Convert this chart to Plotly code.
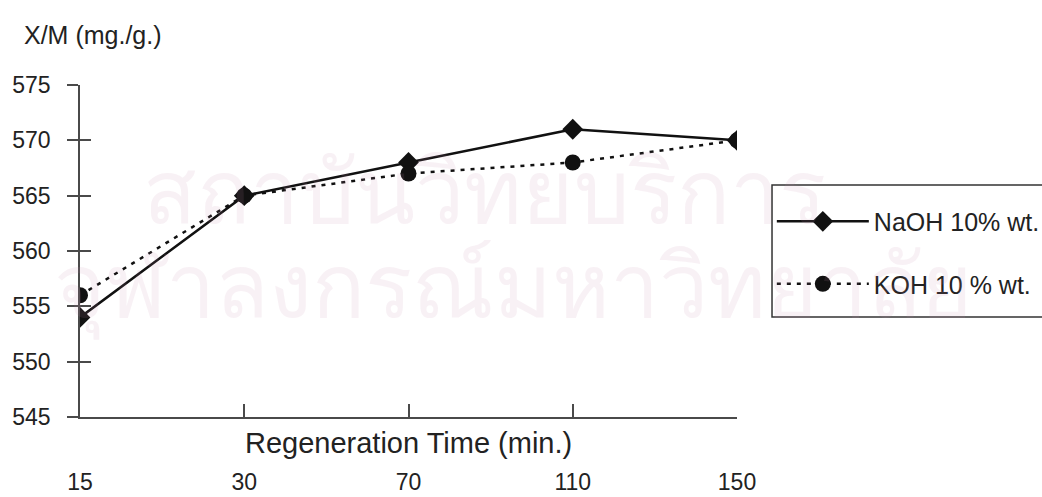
import plotly.graph_objects as go

# ---- data ----
time_labels = ["15", "30", "70", "110", "150"]
naoh_values = [554, 565, 568, 571, 570]
koh_values = [556, 565, 567, 568, 570]
y_ticks = [545, 550, 555, 560, 565, 570, 575]
series_names = ["NaOH 10% wt.", "KOH 10 % wt."]
watermark_lines = ["สถาบันวิทยบริการ", "จุฬาลงกรณ์มหาวิทยาลัย"]

FONT = "Liberation Sans, Arial, sans-serif"
AX = "#4a4a4a"

fig = go.Figure()
fig.add_trace(go.Scatter(
    x=time_labels, y=naoh_values, name=series_names[0], mode="lines+markers",
    legendgroup="a",
    line=dict(color="#111", width=2.5),
    marker=dict(symbol="diamond", size=16, color="#111"),
))
fig.add_trace(go.Scatter(
    x=time_labels, y=koh_values, name=series_names[1], mode="lines+markers",
    legendgroup="b",
    line=dict(color="#111", width=2.5, dash="4px,6px"),
    marker=dict(symbol="circle", size=16, color="#111"),
))

fig.update_layout(
    width=1042, height=497,
    margin=dict(l=80, r=305, t=85, b=80, autoexpand=False),
    paper_bgcolor="white", plot_bgcolor="white",
    font=dict(family=FONT, color="#222", size=23),
    showlegend=True,
    legend=dict(
        x=1.053, y=0.658, xanchor="left", yanchor="top",
        borderwidth=0, bgcolor="rgba(255,255,255,0)",
        font=dict(size=25, family=FONT, color="#222"),
        itemwidth=92, tracegroupgap=27,
    ),
    xaxis=dict(
        type="category", range=[0, 4], showgrid=False, zeroline=False,
        showline=True, linecolor=AX, linewidth=1.5,
        ticks="inside", ticklen=13, tickcolor=AX, tickwidth=1.5,
        tickfont=dict(size=23, family=FONT, color="#222"),
        ticklabelstandoff=44,
    ),
    yaxis=dict(
        range=[545, 575], tickvals=y_ticks, showgrid=False, zeroline=False,
        showline=True, linecolor=AX, linewidth=1.5,
        ticks="outside", ticklen=11, tickcolor=AX, tickwidth=1.5,
        tickfont=dict(size=23, family=FONT, color="#222"),
        ticklabelstandoff=12,
    ),
    yaxis2=dict(
        range=[545, 575], tickvals=y_ticks, overlaying="y", side="left",
        showgrid=False, zeroline=False, showline=False, showticklabels=False,
        ticks="inside", ticklen=11, tickcolor=AX, tickwidth=1.5,
    ),
)
fig.add_trace(go.Scatter(x=[time_labels[0]], y=[None], yaxis="y2", showlegend=False, hoverinfo="skip"))

# legend frame (extends past the right edge like the reference)
fig.add_shape(type="rect", xref="paper", yref="paper",
              x0=1.0533, x1=1.6, y0=0.3012, y1=0.6988,
              line=dict(color="#333", width=1.5), fillcolor="rgba(0,0,0,0)", layer="above")

# watermark
fig.add_annotation(text=watermark_lines[0], xref="paper", yref="paper", x=0.616, y=0.832,
                   showarrow=False, font=dict(size=88, color="rgba(200,140,170,0.12)"))
fig.add_annotation(text=watermark_lines[1], xref="paper", yref="paper", x=0.66, y=0.388,
                   showarrow=False, font=dict(size=88, color="rgba(200,140,170,0.12)"))

# axis titles
fig.add_annotation(text="X/M (mg./g.)", xref="paper", yref="paper",
                   x=-0.088, y=1.15, xanchor="left", yanchor="middle",
                   showarrow=False, font=dict(size=25, family=FONT, color="#222"))
fig.add_annotation(text="Regeneration Time (min.)", xref="paper", yref="paper",
                   x=0.5, y=-0.078, xanchor="center", yanchor="middle",
                   showarrow=False, font=dict(size=29, family=FONT, color="#222"))

fig.write_html("out.html", config={"displayModeBar": False},
               post_script="document.body.style.margin='0';")
